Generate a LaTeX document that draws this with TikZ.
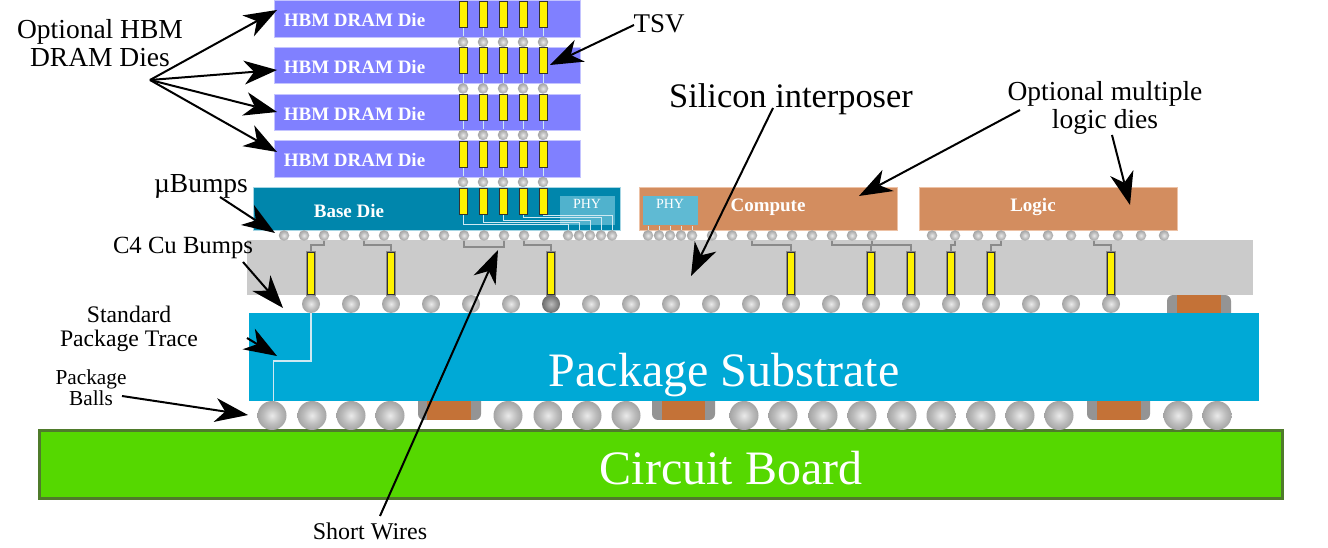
\documentclass[tikz,border=0pt]{standalone}
\usepackage{fontspec}
\setmainfont{Liberation Serif}
\usetikzlibrary{arrows.meta}
\def\pxu{0.75pt}
\newcommand{\pxfont}[1]{\pgfmathsetmacro\pxsize{#1*0.75}\fontsize{\pxsize}{\pxsize}\selectfont}
\definecolor{dieblue}{HTML}{8080FF}
\definecolor{dieedge}{HTML}{C4C4FF}
\definecolor{basecol}{HTML}{0086AC}
\definecolor{baseedge}{HTML}{A6D6E4}
\definecolor{physky}{HTML}{5FBAD3}
\definecolor{logiccol}{HTML}{D38D5F}
\definecolor{logicedge}{HTML}{EDC2A6}
\definecolor{interpose}{HTML}{CBCBCB}
\definecolor{substrate}{HTML}{00A9D6}
\definecolor{boardfill}{HTML}{55D800}
\definecolor{boardedge}{HTML}{4F7B2B}
\definecolor{capcore}{HTML}{C47237}
\definecolor{capcase}{HTML}{949494}
\definecolor{wiregray}{HTML}{8A8A8A}
\definecolor{tracelight}{HTML}{CFE9F2}
\definecolor{ballhi}{HTML}{EAEAEA}
\definecolor{balllo}{HTML}{979797}
\definecolor{balldark}{HTML}{5C5C5C}
\definecolor{ballmid}{HTML}{BCBCBC}
\pgfdeclareradialshading{bumpball}{\pgfpoint{0bp}{0bp}}{color(0bp)=(ballhi); color(15bp)=(ballmid); color(31bp)=(balllo); color(50bp)=(balllo)}
\pgfdeclareradialshading{darkball}{\pgfpoint{0bp}{0bp}}{color(0bp)=(ballmid); color(15bp)=(wiregray); color(31bp)=(balldark); color(50bp)=(balldark)}
\tikzset{
  blockbox/.style={draw, line width=1*\pxu, anchor=north west, inner sep=0pt},
  drambox/.style={blockbox, draw=dieedge, fill=dieblue, minimum width=306*\pxu, minimum height=36.5*\pxu},
  phybox/.style={anchor=north west, inner sep=0pt, fill=physky, minimum width=55*\pxu, minimum height=29*\pxu},
  viabar/.style={draw=black!80, line width=1*\pxu, fill=yellow, inner sep=0pt, anchor=north, minimum width=8*\pxu, minimum height=26*\pxu},
  throughbar/.style={viabar, minimum width=7.5*\pxu, minimum height=42*\pxu,
    preaction={draw=wiregray, line width=2.4*\pxu}},
  ubump/.style={circle, inner sep=0pt, minimum size=10.5*\pxu, shading=bumpball, draw=none},
  cbump/.style={circle, inner sep=0pt, minimum size=18*\pxu, shading=bumpball, draw=none},
  cbumpdark/.style={cbump, shading=darkball},
  pball/.style={circle, inner sep=0pt, minimum size=29*\pxu, shading=bumpball, draw=none},
  diewire/.style={draw=tracelight, line width=1*\pxu},
  ipwire/.style={draw=wiregray, line width=1.5*\pxu},
  pkgtrace/.style={draw=tracelight, line width=1.5*\pxu},
  callout/.style={draw=black, line width=2*\pxu,
    -{Stealth[length=33*\pxu, width=24*\pxu, inset=10*\pxu, line width=0pt]}},
  whitebold/.style={text=white, font=\bfseries\pxfont{19}, inner sep=0pt},
  phytext/.style={text=white, font=\pxfont{14}, inner sep=0pt},
  hugetext/.style={text=white, font=\pxfont{48}, inner sep=0pt},
  annot/.style={text=black, inner sep=0pt, align=center},
}
\begin{document}
\begin{tikzpicture}[x=0.75pt,y=-0.75pt]
\useasboundingbox (0,0) rectangle (1328,548);
\fill[white] (0,0) rectangle (1328,548);

% Decoupling capacitors below and above the substrate
\foreach \xa/\xb/\ca/\cb in {418/481/427/471, 652/715/662/705, 1087/1150/1097/1141} {
  \fill[capcase, rounded corners=6*\pxu] (\xa,390) rectangle (\xb,420);
  \fill[capcore] (\ca,390) rectangle (\cb,420);
}
\fill[capcase, rounded corners=6*\pxu] (1167,295) rectangle (1231,325);
\fill[capcore] (1177,295) rectangle (1221,325);

% Circuit board and package substrate
\node[draw=boardedge, line width=3*\pxu, fill=boardfill, anchor=north west, inner sep=0pt,
      minimum width=1243*\pxu, minimum height=67.5*\pxu] (board) at (38,429.5) {};
\node[hugetext] (boardtext) at (731,468.5) {Circuit Board};
\node[fill=substrate, anchor=north west, inner sep=0pt,
      minimum width=1010*\pxu, minimum height=88*\pxu] (subst) at (249,313) {};
\node[hugetext] (subtext) at (724,375) {Package Substrate};

% Silicon interposer
\node[fill=interpose, anchor=north west, inner sep=0pt,
      minimum width=1006*\pxu, minimum height=55*\pxu] (interp) at (247,240) {};

% DRAM stack
\node[drambox] (die1) at (274,0.5) {};
\node[drambox] (die2) at (274,47) {};
\node[drambox] (die3) at (274,94) {};
\node[drambox] (die4) at (274,140.5) {};
\foreach \d/\y in {1/20, 2/67, 3/114, 4/160}
  \node[whitebold] (dietext\d) at (354.5,\y) {HBM DRAM Die};

% Base die and logic dies
\node[blockbox, draw=baseedge, fill=basecol, minimum width=367*\pxu, minimum height=43*\pxu] (basedie) at (252.5,187) {};
\node[phybox, fill=physky, fill opacity=0.85] (phya) at (560,196) {};
\node[blockbox, draw=logicedge, fill=logiccol, minimum width=258*\pxu, minimum height=43*\pxu] (compute) at (638.5,187) {};
\node[phybox] (phyb) at (643,196) {};
\node[blockbox, draw=logicedge, fill=logiccol, minimum width=258*\pxu, minimum height=43*\pxu] (logicdie) at (918.5,187) {};
\node[whitebold] (basetext) at (349,211) {Base Die};
\node[whitebold] (computetext) at (768,207) {Compute};
\node[whitebold] (logictext) at (1033,207) {Logic};
\node[phytext] (phytexta) at (587,204) {PHY};
\node[phytext] (phytextb) at (670,204) {PHY};

% TSV columns through the stack, with the bumps that join them
\foreach \r/\t in {1/1, 2/47.5, 3/94, 4/141, 5/188}
  \foreach \c/\x in {1/463, 2/483, 3/503, 4/523, 5/543}
    \node[viabar] (tsv\r-\c) at (\x,\t) {};
\foreach \r/\y in {1/42, 2/88.5, 3/135, 4/182}
  \foreach \c/\x in {1/463, 2/483, 3/503, 4/523, 5/543} {
    \node[ubump] (sb\r-\c) at (\x,\y) {};
    \draw[diewire] (tsv\r-\c.south) -- (sb\r-\c.north);
  }

% Microbumps under the base die and the logic dies
\foreach \x in {284,304,324,344,364,384,404,424,444,464,484,504,524,544,
                568,579,590,601,612,
                648,659,670,681,692,712,732,752,772,792,812,832,852,872,
                932,955,978,1001,1025,1048,1071,1094,1118,1141,1164}
  \node[ubump] (ub\x) at (\x,235.5) {};

% Through-interposer vias
\foreach \x in {311,391,551,791,871,911,951,991,1111}
  \node[throughbar] (ip\x) at (\x,252) {};

% C4 bumps
\foreach \x in {311,351,391,431,471,511,591,631,671,711,751,791,831,871,911,951,991,1031,1071,1111}
  \node[cbump] (cb\x) at (\x,304) {};
\node[cbumpdark] (cb551) at (551,304) {};

% Package balls
\foreach \x in {272,312,351,390,508,548,587,626,744,783,823,862,902,941,981,1020,1059,1178,1217}
  \node[pball] (pb\x) at (\x,415.5) {};

% Base die fan-out from the TSVs to the PHY bumps
\foreach \c/\b/\y in {1/568/225, 2/579/223, 3/590/220.5, 4/601/218, 5/612/216}
  \draw[diewire] (tsv5-\c.south) -- (tsv5-\c.south |- 0,\y) -| (ub\b.north);

% PHY bump stubs on the compute die
\foreach \b in {648,659,670,681,692}
  \draw[diewire] (phyb.south -| ub\b) -- (ub\b.north);

% Interposer routing
\foreach \b/\v in {324/311, 364/391, 524/551, 752/791, 832/871, 872/911, 955/951, 1001/991, 1094/1111}
  \draw[ipwire] (ub\b.south) -- (ub\b.south |- 0,245) -| (ip\v.north);
\draw[ipwire] (ub464.south) -- (ub464.south |- 0,247) -| (ub504.south);

% Package trace from a C4 bump to a ball
\draw[pkgtrace] (cb311.south) -- (cb311.south |- 0,361) -| ([xshift=1.5*\pxu]pb272.north);

% Annotation labels
\node[annot, font=\pxfont{27.5}] (lblhbm) at (100,43) {Optional HBM\\DRAM Dies};
\node[annot, font=\pxfont{27}] (lbltsv) at (659,24) {TSV};
\node[annot, font=\pxfont{34.4}] (lblsi) at (791,99) {Silicon interposer};
\node[annot, font=\pxfont{27.5}] (lblopt) at (1105,108) {Optional multiple\\logic dies};
\node[annot, font=\pxfont{27.5}] (lblub) at (201,186) {µBumps};
\node[annot, font=\pxfont{24.7}] (lblc4) at (183,248) {C4 Cu Bumps};
\node[annot, font=\pxfont{23.7}] (lbltrace) at (129,329) {Standard\\Package Trace};
\node[annot, font=\pxfont{21.3}] (lblballs) at (91,388) {Package\\Balls};
\node[annot, font=\pxfont{24}] (lblshort) at (370,531) {Short Wires};

% Free ends of the call-out arrows
\coordinate (hbmfan) at (150,80);
\coordinate (tiphbm1) at (277,10);
\coordinate (tiphbm2) at (277,70);
\coordinate (tiphbm3) at (277,112);
\coordinate (tiphbm4) at (277,152);
\coordinate (tailtsv) at (634,25);
\coordinate (tiptsv) at (550,65);
\coordinate (tailsi) at (773,108);
\coordinate (tipsi) at (691,276);
\coordinate (tailopta) at (1020,110);
\coordinate (tipopta) at (859,196);
\coordinate (tailoptb) at (1112,135);
\coordinate (tipoptb) at (1130,205);
\coordinate (tailub) at (220,197);
\coordinate (tipub) at (275,233);
\coordinate (tailc4) at (243,262);
\coordinate (tipc4) at (283,308);
\coordinate (tailtrace) at (247,338);
\coordinate (tiptrace) at (277,356);
\coordinate (tailballs) at (122,396);
\coordinate (tipballs) at (248,415);
\coordinate (tailshort) at (380,516);
\coordinate (tipshort) at (498,250);

% Call-out arrows
\foreach \t in {tiphbm1,tiphbm2,tiphbm3,tiphbm4}
  \draw[callout] (hbmfan) -- (\t);
\draw[callout] (tailtsv) -- (tiptsv);
\draw[callout] (tailsi) -- (tipsi);
\draw[callout] (tailopta) -- (tipopta);
\draw[callout] (tailoptb) -- (tipoptb);
\draw[callout] (tailub) -- (tipub);
\draw[callout] (tailc4) -- (tipc4);
\draw[callout] (tailtrace) -- (tiptrace);
\draw[callout] (tailballs) -- (tipballs);
\draw[callout] (tailshort) -- (tipshort);
\end{tikzpicture}
\end{document}
